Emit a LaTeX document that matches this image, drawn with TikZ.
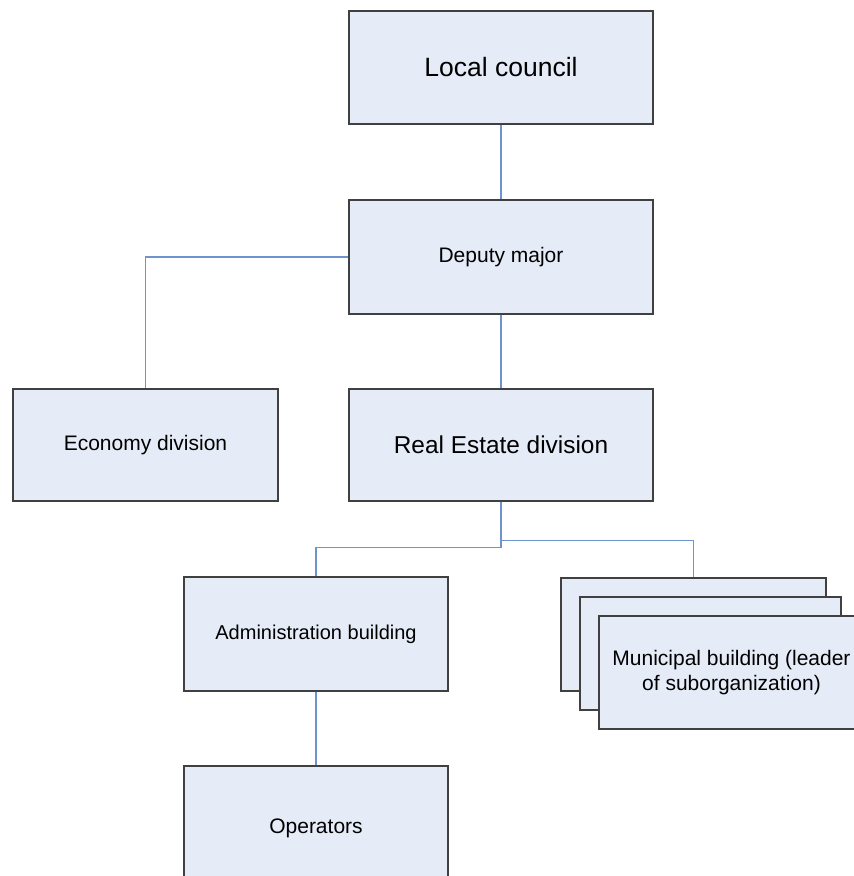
\documentclass[tikz,border=0pt]{standalone}
\usepackage{fontspec}
\setmainfont{Liberation Sans}
\definecolor{boxfill}{HTML}{E6ECF7}
\definecolor{boxline}{HTML}{404040}
\definecolor{conn}{HTML}{6F93CC}
\begin{document}
\begin{tikzpicture}[x=1pt,y=-1pt,
  orgbox/.style={draw=boxline, fill=boxfill, line width=1.2pt, inner sep=0pt,
    font=\fontsize{21}{25}\selectfont, align=center},
  boxtext/.style={inner sep=0pt, font=\fontsize{21}{25}\selectfont, align=center},
  link/.style={draw=conn, line width=1.2pt}]
\useasboundingbox (0,0) rectangle (854,876);
\clip (0,0) rectangle (854,876);
\node[orgbox, minimum width=304pt, minimum height=113pt, font=\fontsize{26.5}{30}\selectfont] (lc) at (501,67.5) {Local council};
\node[orgbox, minimum width=304pt, minimum height=114pt] (dm) at (501,257) {Deputy major};
\node[orgbox, minimum width=265pt, minimum height=112pt] (ec) at (145.5,445) {Economy division};
\node[orgbox, minimum width=304pt, minimum height=112pt, font=\fontsize{24.4}{28}\selectfont] (re) at (501,445) {Real Estate division};
\node[orgbox, minimum width=264pt, minimum height=114pt, font=\fontsize{20}{24}\selectfont] (ab) at (316,634) {Administration building};
\node[orgbox, minimum width=264pt, minimum height=124pt] (op) at (316,828) {Operators};
\node[orgbox, minimum width=265pt, minimum height=113pt] (mb1) at (693.5,634.5) {};
\node[orgbox, minimum width=261pt, minimum height=113pt] (mb2) at (710.5,653.5) {};
\node[orgbox, minimum width=290pt, minimum height=113pt] (mb3) at (744,672.5) {};
\node[boxtext] (mb3t) at (731.5,672.5) {Municipal building (leader\\of suborganization)};
\draw[link] (lc.south) -- (dm.north);
\draw[link] (dm.south) -- (re.north);
\draw[link] (dm.west) -| (ec.north);
\draw[link] (re.south) -- ++(0,46) -| (ab.north);
\draw[link] (re.south) -- ++(0,39) -| (mb1.north);
\draw[link] (ab.south) -- (op.north);
\end{tikzpicture}
\end{document}
